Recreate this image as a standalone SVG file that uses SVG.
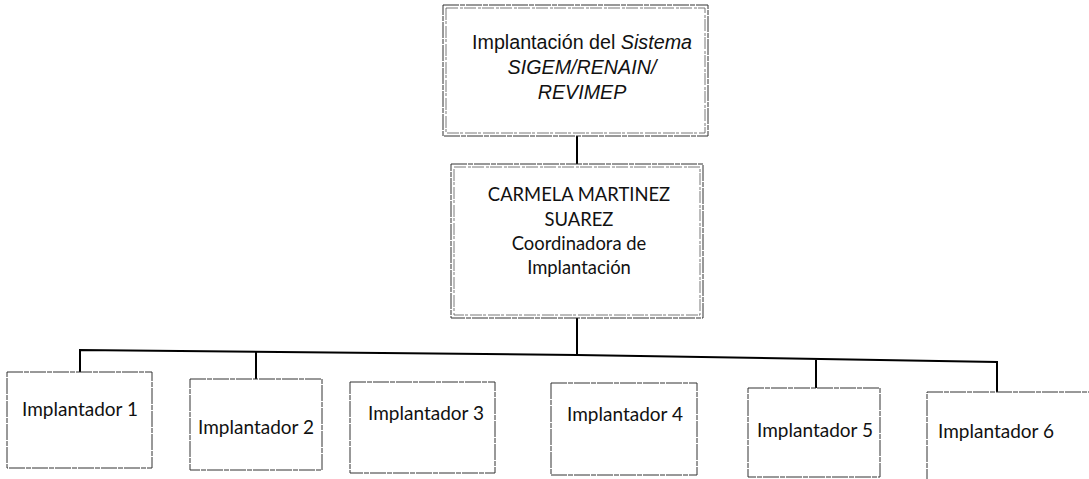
<svg xmlns="http://www.w3.org/2000/svg" width="1089" height="479" viewBox="0 0 1089 479">
<style>
.box{fill:#fff;stroke:#333;stroke-width:1;stroke-dasharray:16 1 5 1}
.inner{fill:none;stroke:#555;stroke-width:0.8;stroke-dasharray:12 2 3 1}
.conn{fill:none;stroke:#000;stroke-width:2}
.ar{font-family:"Liberation Sans",Arial,sans-serif;font-size:19.7px;fill:#111}
.ca{font-family:Lato,"Open Sans",sans-serif;font-size:18.4px;fill:#111}
.ci{font-family:Lato,"Open Sans",sans-serif;font-size:19px;fill:#111}
</style>
<rect width="1089" height="479" fill="#fff"/>
<g id="connectors">
<line class="conn" x1="577" y1="136" x2="577" y2="164"/>
<line class="conn" x1="577" y1="318" x2="577" y2="355"/>
<polyline class="conn" points="80,372 80,350 577,355 997,362 997,392"/>
<line class="conn" x1="256" y1="351" x2="256" y2="379"/>
<line class="conn" x1="816" y1="360" x2="816" y2="388"/>
</g>
<g id="top">
<rect class="box" x="443" y="5" width="265" height="131"/>
<rect class="inner" x="446" y="8" width="259" height="125"/>
<text class="ar" text-anchor="middle"><tspan x="582" y="49">Implantación del <tspan font-style="italic">Sistema</tspan></tspan><tspan x="582" y="74" font-style="italic">SIGEM/RENAIN/</tspan><tspan x="582" y="99" font-style="italic">REVIMEP</tspan></text>
</g>
<g id="coord">
<rect class="box" x="451" y="164" width="252" height="154"/>
<rect class="inner" x="454" y="167" width="246" height="148"/>
<text class="ca" text-anchor="middle"><tspan x="579" y="201">CARMELA MARTINEZ</tspan><tspan x="579" y="226">SUAREZ</tspan><tspan x="579" y="250">Coordinadora de</tspan><tspan x="579" y="274">Implantación</tspan></text>
</g>
<g id="imp1"><rect class="box" x="7" y="372" width="145" height="96"/><text class="ci" x="80" y="416" text-anchor="middle">Implantador 1</text></g>
<g id="imp2"><rect class="box" x="190" y="379" width="132" height="91"/><text class="ci" x="256" y="434" text-anchor="middle">Implantador 2</text></g>
<g id="imp3"><rect class="box" x="350" y="382" width="145" height="91"/><text class="ci" x="426" y="420" text-anchor="middle">Implantador 3</text></g>
<g id="imp4"><rect class="box" x="551" y="383" width="146" height="92"/><text class="ci" x="625" y="421" text-anchor="middle">Implantador 4</text></g>
<g id="imp5"><rect class="box" x="748" y="388" width="132" height="89"/><text class="ci" x="815" y="437" text-anchor="middle">Implantador 5</text></g>
<g id="imp6"><rect class="box" x="927" y="392" width="170" height="95"/><text class="ci" x="996" y="438" text-anchor="middle">Implantador 6</text></g>
</svg>
